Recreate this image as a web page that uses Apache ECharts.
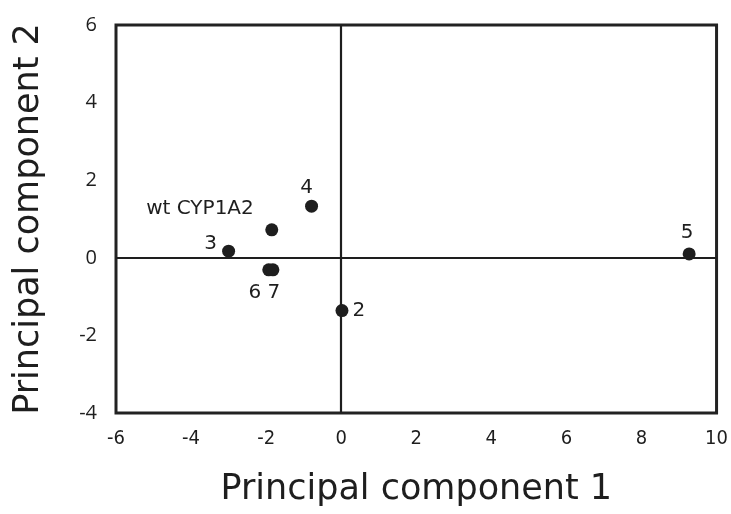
<!DOCTYPE html>
<html><head><meta charset="utf-8">
<script src="https://cdn.jsdelivr.net/npm/echarts@6/dist/echarts.min.js"></script>
<style>html,body{margin:0;padding:0;background:#fff}#c{width:731px;height:514px}</style>
</head><body><div id="c"></div>
<script>
var pointNames = ['wt CYP1A2', '4', '3', '6', '7', '2', '5'];
var pc1 = [-1.85, -0.79, -3.0, -1.93, -1.82, 0.02, 9.27];
var pc2 = [0.72, 1.33, 0.17, -0.31, -0.31, -1.36, 0.10];
var xTicks = [-6, -4, -2, 0, 2, 4, 6, 8, 10];
var yTicks = [-4, -2, 0, 2, 4, 6];

// label placement relative to each dot centre (style, not data)
var labelStyle = {
  'wt CYP1A2': {align: 'right', offset: [-18, -21]},
  '4': {align: 'center', offset: [-5, -18]},
  '3': {align: 'center', offset: [-18, -7]},
  '6': {align: 'center', offset: [-14, 23]},
  '7': {align: 'center', offset: [1, 23]},
  '2': {align: 'center', offset: [17, 0]},
  '5': {align: 'center', offset: [-2, -21]}
};

var data = pointNames.map(function (n, i) {
  var ls = labelStyle[n];
  return {name: n, value: [pc1[i], pc2[i]],
    label: {show: true, formatter: n, position: 'inside', align: ls.align, verticalAlign: 'middle', offset: ls.offset}};
});

var chart = echarts.init(document.getElementById('c'));
chart.setOption({
  animation: false,
  backgroundColor: '#fff',
  grid: {left: 116, right: 11, top: 25, bottom: 101, show: true, borderColor: '#222', borderWidth: 3, backgroundColor: 'transparent'},
  xAxis: {
    type: 'value', min: xTicks[0], max: xTicks[xTicks.length - 1], interval: 2,
    name: 'Principal component 1', nameLocation: 'middle', nameGap: 59,
    nameTextStyle: {fontFamily: 'DejaVu Sans', fontSize: 35, color: '#1e1e1e'},
    axisLine: {show: false}, axisTick: {show: false}, splitLine: {show: false},
    axisLabel: {fontFamily: '"DejaVu Sans Condensed", "Liberation Sans"', fontSize: 20, color: '#1e1e1e', margin: 16,
      formatter: function (v) { return xTicks.indexOf(v) >= 0 ? String(v) : ''; }}
  },
  yAxis: {
    type: 'value', min: yTicks[0], max: yTicks[yTicks.length - 1], interval: 2,
    name: 'Principal component 2', nameLocation: 'middle', nameGap: 70,
    nameTextStyle: {fontFamily: 'DejaVu Sans', fontSize: 35, color: '#1e1e1e'},
    axisLine: {show: false}, axisTick: {show: false}, splitLine: {show: false},
    axisLabel: {fontFamily: 'Open Sans', fontSize: 20, color: '#1e1e1e', margin: 19,
      formatter: function (v) { return yTicks.indexOf(v) >= 0 ? String(v) : ''; }}
  },
  series: [{
    type: 'scatter',
    symbolSize: 13,
    itemStyle: {color: '#1e1e1e', opacity: 1},
    label: {fontFamily: 'DejaVu Sans', fontSize: 20, color: '#1e1e1e'},
    data: data,
    markLine: {
      silent: true, symbol: 'none', label: {show: false},
      lineStyle: {color: '#1e1e1e', width: 2.2, type: 'solid'},
      data: [{xAxis: 0}, {yAxis: 0}]
    },
    z: 3
  }]
});
</script></body></html>
